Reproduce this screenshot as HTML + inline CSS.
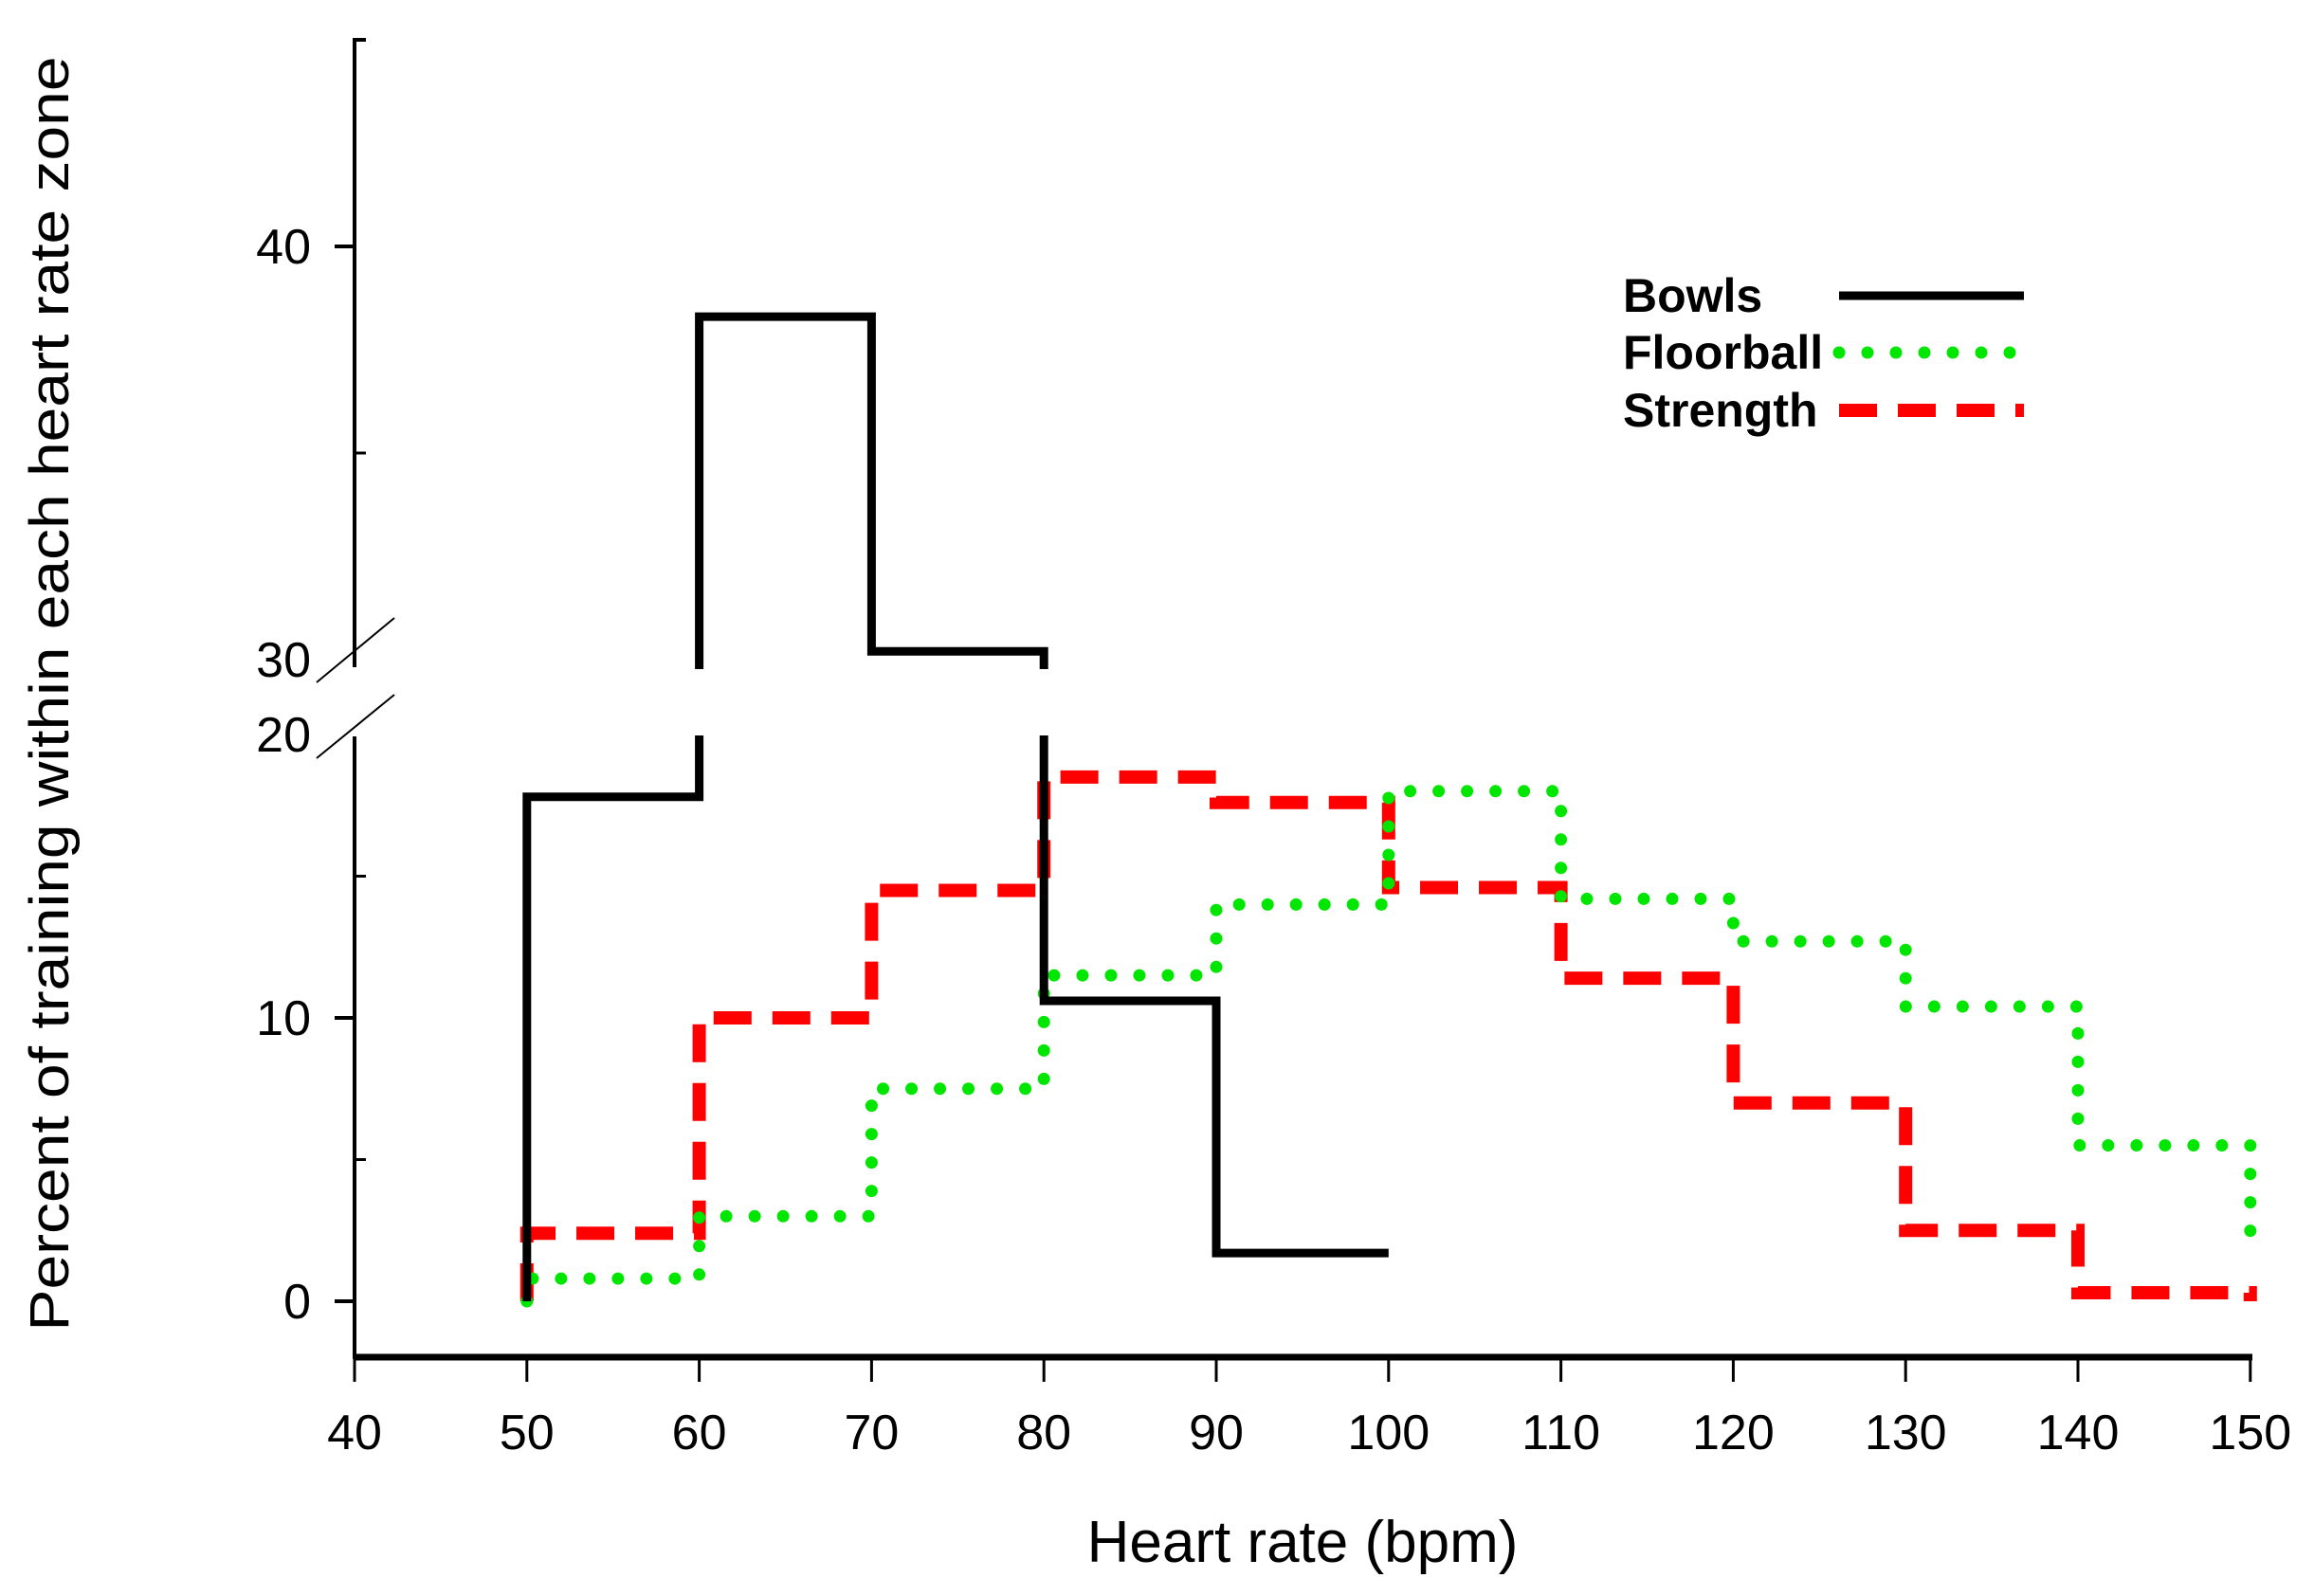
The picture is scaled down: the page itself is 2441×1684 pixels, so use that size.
<!DOCTYPE html>
<html><head><meta charset="utf-8"><style>
html,body{margin:0;padding:0;background:#fff;}
svg{display:block;font-family:"Liberation Sans",Arial,sans-serif;}
</style></head><body>
<svg id="chart" width="2441" height="1684" viewBox="0 0 2441 1684" xmlns="http://www.w3.org/2000/svg">
<rect x="0" y="0" width="2441" height="1684" fill="#fff"/>
<g id="axes"></g>
<g id="series"></g>
<rect x="380" y="706" width="2000" height="70" fill="#fff"/>
<g id="breaks"></g>
<text x="1374" y="1648" font-size="62" text-anchor="middle">Heart rate (bpm)</text>
<text transform="translate(72,732) rotate(-90)" font-size="58" text-anchor="middle" textLength="1345" lengthAdjust="spacingAndGlyphs">Percent of training within each heart rate zone</text>
<g id="legend"></g>
</svg>
<script>
const xTicks = [40,50,60,70,80,90,100,110,120,130,140,150];
const yTicksLower = [0,10,20];
const yTicksUpper = [30,40];
const binEdges = [50,60,70,80,90,100,110,120,130,140,150];
const bowls = [17.8,38.3,30.2,10.6,1.7];
const floorball = [0.8,3.0,7.5,11.5,14.0,18.0,14.2,12.7,10.4,5.5];
const floorballEnd = 2.3;
const strength = [2.4,10.0,14.5,18.5,17.6,14.6,11.4,7.0,2.5,0.3];
const strengthEnd = 0;

const NS="http://www.w3.org/2000/svg";
function X(v){return 374+(v-40)*18.18;}
function Y(v){
  if(v<=20) return 1373-v*29.9;
  if(v>=30) return 696-(v-30)*43.6;
  return 775-(v-20)*(775-696)/10;
}
function mk(tag,attrs,parent){const e=document.createElementNS(NS,tag);for(const k in attrs)e.setAttribute(k,attrs[k]);parent.appendChild(e);return e;}
const axes=document.getElementById('axes');
let xl=mk('line',{x1:374,y1:1432,x2:2376,y2:1432,stroke:'#000','stroke-width':7},axes);


xTicks.forEach(t=>{
  const l=mk('line',{x1:X(t),y1:1432,x2:X(t),y2:1458,stroke:'#000','stroke-width':3},axes);
  
  
  const tx=mk('text',{x:X(t),y:1529,'font-size':52,'text-anchor':'middle'},axes);
  tx.textContent=t;
  
  
});
let ya=mk('line',{x1:374,y1:1434,x2:374,y2:777,stroke:'#000','stroke-width':4},axes);


let yb=mk('path',{d:'M374,704 L374,42 L386,42',fill:'none',stroke:'#000','stroke-width':4},axes);


yTicksLower.concat(yTicksUpper).forEach(t=>{
  if(t!==20 && t!==30){
    const l=mk('line',{x1:353,y1:Y(t),x2:374,y2:Y(t),stroke:'#000','stroke-width':4},axes);
    
    
  }
  const tx=mk('text',{x:328,y:Y(t)+18,'font-size':52,'text-anchor':'end'},axes);
  tx.textContent=t;
  
  
});
[5,15,35].forEach(t=>{
  const l=mk('line',{x1:374,y1:Y(t),x2:386,y2:Y(t),stroke:'#000','stroke-width':3},axes);
  
  
});
function stepPath(vals,endVal){
  let d='M'+X(binEdges[0])+','+Y(0);
  vals.forEach((v,i)=>{d+=' L'+X(binEdges[i])+','+Y(v)+' L'+X(binEdges[i+1])+','+Y(v);});
  if(endVal!==null) d+=' L'+X(binEdges[vals.length])+','+Y(endVal);
  return d;
}
const series=document.getElementById('series');
let ps=mk('path',{d:stepPath(strength,strengthEnd),fill:'none',stroke:'#f00','stroke-width':14,'stroke-dasharray':'40 22'},series);


let pf=mk('path',{d:stepPath(floorball,floorballEnd),fill:'none',stroke:'#00e600','stroke-width':13,'stroke-linecap':'round','stroke-dasharray':'0 30'},series);


let pb=mk('path',{d:stepPath(bowls,null),fill:'none',stroke:'#000','stroke-width':9},series);


const br=document.getElementById('breaks');
[[334,720,416,652],[334,800,416,733]].forEach(c=>{
  const l=mk('line',{x1:c[0],y1:c[1],x2:c[2],y2:c[3],stroke:'#000','stroke-width':2},br);
  
  
});
const lg=document.getElementById('legend');
const entries=[['Bowls',312,{stroke:'#000','stroke-width':9}],['Floorball',372,{stroke:'#00e600','stroke-width':13,'stroke-linecap':'round','stroke-dasharray':'0 30'}],['Strength',433,{stroke:'#f00','stroke-width':14,'stroke-dasharray':'40 22'}]];
entries.forEach(e=>{
  const t=mk('text',{x:1712,y:e[1]+17,'font-size':50,'font-weight':'bold'},lg);
  t.textContent=e[0];
  
  
  const a=Object.assign({x1:1940,y1:e[1],x2:2135,y2:e[1]},e[2]);
  const l=mk('line',a,lg);
  
  
});
</script>
</body></html>
